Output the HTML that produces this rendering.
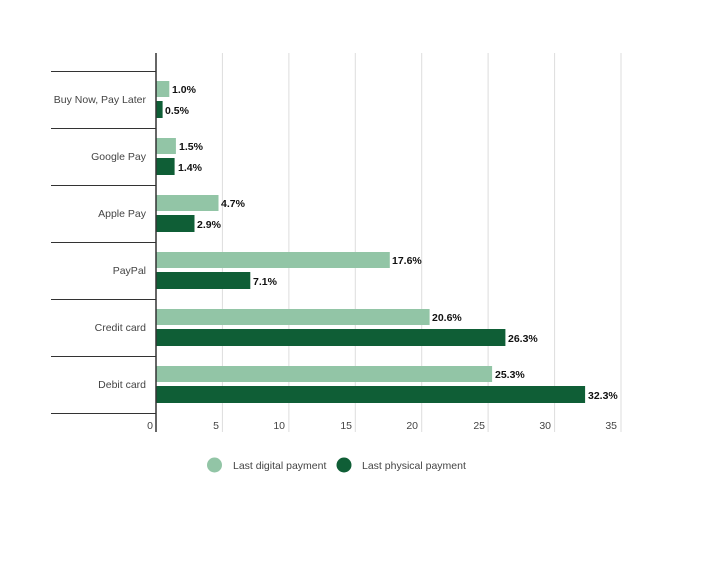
<!DOCTYPE html><html><head><style>body{margin:0;background:#fff}</style></head><body>
<svg width="702" height="556" xmlns="http://www.w3.org/2000/svg" font-family="Liberation Sans, sans-serif">
<rect width="702" height="556" fill="#fff"/>
<g stroke="#ddd" stroke-width="1">
<line x1="222.4" y1="53" x2="222.4" y2="432"/><line x1="288.9" y1="53" x2="288.9" y2="432"/><line x1="355.3" y1="53" x2="355.3" y2="432"/><line x1="421.7" y1="53" x2="421.7" y2="432"/><line x1="488.1" y1="53" x2="488.1" y2="432"/><line x1="554.6" y1="53" x2="554.6" y2="432"/><line x1="621" y1="53" x2="621" y2="432"/>
</g>
<g stroke="#333" stroke-width="1">
<line x1="51" y1="71.5" x2="156" y2="71.5"/><line x1="51" y1="128.5" x2="156" y2="128.5"/><line x1="51" y1="185.5" x2="156" y2="185.5"/><line x1="51" y1="242.5" x2="156" y2="242.5"/><line x1="51" y1="299.5" x2="156" y2="299.5"/><line x1="51" y1="356.5" x2="156" y2="356.5"/><line x1="51" y1="413.5" x2="156" y2="413.5"/>
</g>
<g font-size="10.5" fill="#444" text-anchor="end">
<text x="146" y="103">Buy Now, Pay Later</text><text x="146" y="160">Google Pay</text><text x="146" y="217">Apple Pay</text><text x="146" y="274">PayPal</text><text x="146" y="331">Credit card</text><text x="146" y="388">Debit card</text>
<text x="153" y="429">0</text><text x="219" y="429">5</text><text x="285" y="429">10</text><text x="352" y="429">15</text><text x="418" y="429">20</text><text x="485" y="429">25</text><text x="551" y="429">30</text><text x="617" y="429">35</text>
</g>
<g>
<rect x="156" y="81" width="13.3" height="16" fill="#92c5a6"/><rect x="156" y="101" width="6.6" height="17" fill="#0f5e36"/>
<rect x="156" y="138" width="19.9" height="16" fill="#92c5a6"/><rect x="156" y="158" width="18.6" height="17" fill="#0f5e36"/>
<rect x="156" y="195" width="62.5" height="16" fill="#92c5a6"/><rect x="156" y="215" width="38.5" height="17" fill="#0f5e36"/>
<rect x="156" y="252" width="233.8" height="16" fill="#92c5a6"/><rect x="156" y="272" width="94.3" height="17" fill="#0f5e36"/>
<rect x="156" y="309" width="273.6" height="16" fill="#92c5a6"/><rect x="156" y="329" width="349.4" height="17" fill="#0f5e36"/>
<rect x="156" y="366" width="336.1" height="16" fill="#92c5a6"/><rect x="156" y="386" width="429.1" height="17" fill="#0f5e36"/>
</g>
<line x1="156" y1="53" x2="156" y2="432" stroke="#333" stroke-width="1.5"/>
<g font-size="10.5" fill="#111" font-weight="600">
<text x="172" y="93">1.0%</text><text x="165" y="114">0.5%</text>
<text x="179" y="150">1.5%</text><text x="178" y="171">1.4%</text>
<text x="221" y="207">4.7%</text><text x="197" y="228">2.9%</text>
<text x="392" y="264">17.6%</text><text x="253" y="285">7.1%</text>
<text x="432" y="321">20.6%</text><text x="508" y="342">26.3%</text>
<text x="495" y="378">25.3%</text><text x="588" y="399">32.3%</text>
</g>
<circle cx="214.5" cy="465" r="7.5" fill="#92c5a6"/><text x="233" y="469" font-size="10.5" fill="#444">Last digital payment</text>
<circle cx="344" cy="465" r="7.5" fill="#0f5e36"/><text x="362" y="469" font-size="10.5" fill="#444">Last physical payment</text>
</svg>
</body></html>
